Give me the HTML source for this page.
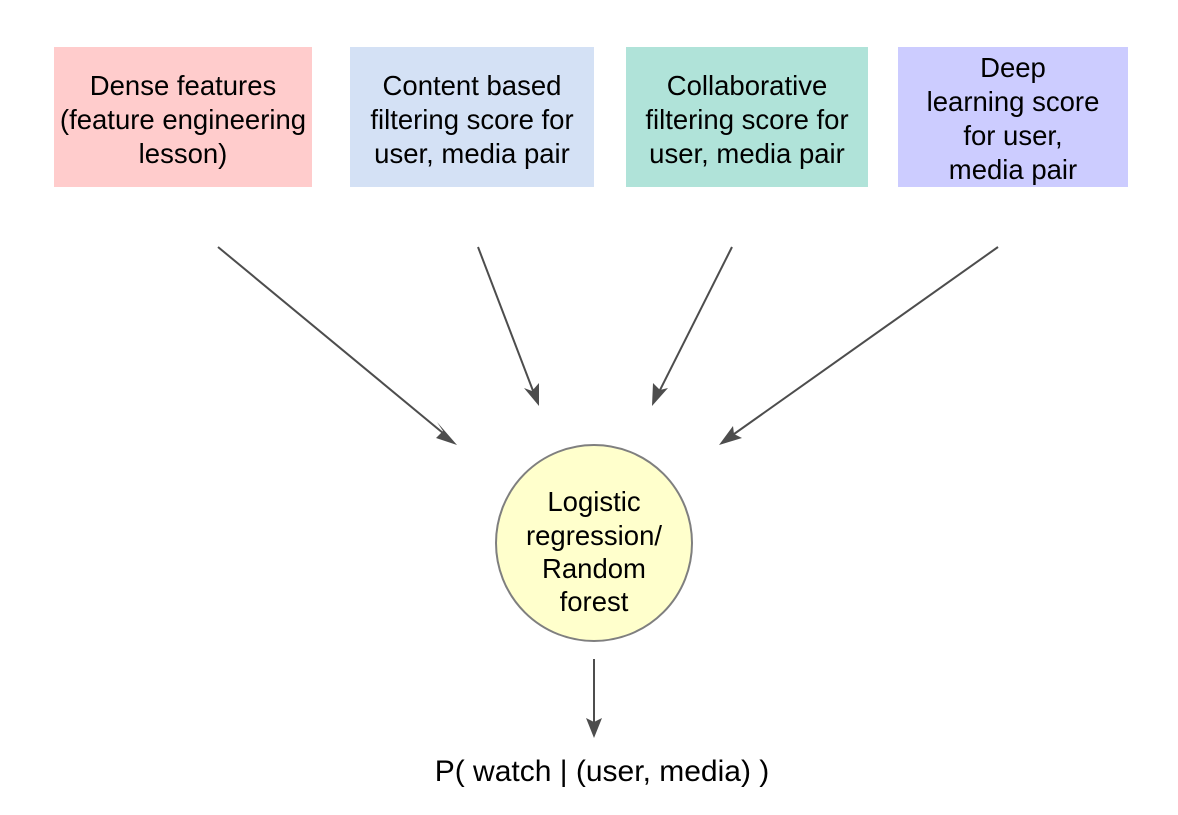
<!DOCTYPE html>
<html><head><style>
body{margin:0;width:1178px;height:815px;background:#fff;position:relative;font-family:"Liberation Sans",Arial,sans-serif;overflow:hidden}
.b{position:absolute;top:47px;height:140px;display:flex;align-items:center;justify-content:center;text-align:center;font-size:27.5px;line-height:34px;color:#000;white-space:nowrap}
</style></head><body>
<div class="b" style="left:54px;width:258px;background:#ffcccc;padding-top:6px;box-sizing:border-box">Dense features<br>(feature engineering<br>lesson)</div>
<div class="b" style="left:350px;width:244px;background:#d4e1f5;padding-top:6px;box-sizing:border-box">Content based<br>filtering score for<br>user, media pair</div>
<div class="b" style="left:626px;width:242px;background:#b0e3d9;padding-top:6px;box-sizing:border-box">Collaborative<br>filtering score for<br>user, media pair</div>
<div class="b" style="left:898px;width:230px;background:#ccccff;padding-top:4px;box-sizing:border-box">Deep<br>learning score<br>for user,<br>media pair</div>
<svg width="1178" height="815" style="position:absolute;left:0;top:0">
<g stroke="#4d4d4d" stroke-width="2" fill="none">
<line x1="218" y1="247" x2="449" y2="438"/>
<line x1="478" y1="247" x2="535" y2="396"/>
<line x1="732" y1="247" x2="657" y2="396"/>
<line x1="998" y1="247" x2="727" y2="439"/>
<line x1="594" y1="659" x2="594" y2="726"/>
</g>
<g fill="#4d4d4d">
<polygon points="457,445 436,438 443,431 437,422"/>
<polygon points="539,406 524,388 532,391 539,383"/>
<polygon points="652,406 653,383 660,390 668,388"/>
<polygon points="719,445 733,426 734,434 742,438"/>
<polygon points="594,738 586,718 594,722 602,718"/>
</g>
<circle cx="594" cy="543" r="98" fill="#ffffcc" stroke="#7f7f7f" stroke-width="2"/>
<g font-family="Liberation Sans, Arial, sans-serif" font-size="27.5" text-anchor="middle" fill="#000">
<text x="594" y="511">Logistic</text>
<text x="594" y="545">regression/</text>
<text x="594" y="578">Random</text>
<text x="594" y="611">forest</text>
<text x="602" y="781" font-size="30">P( watch | (user, media) )</text>
</g>
</svg>
</body></html>
